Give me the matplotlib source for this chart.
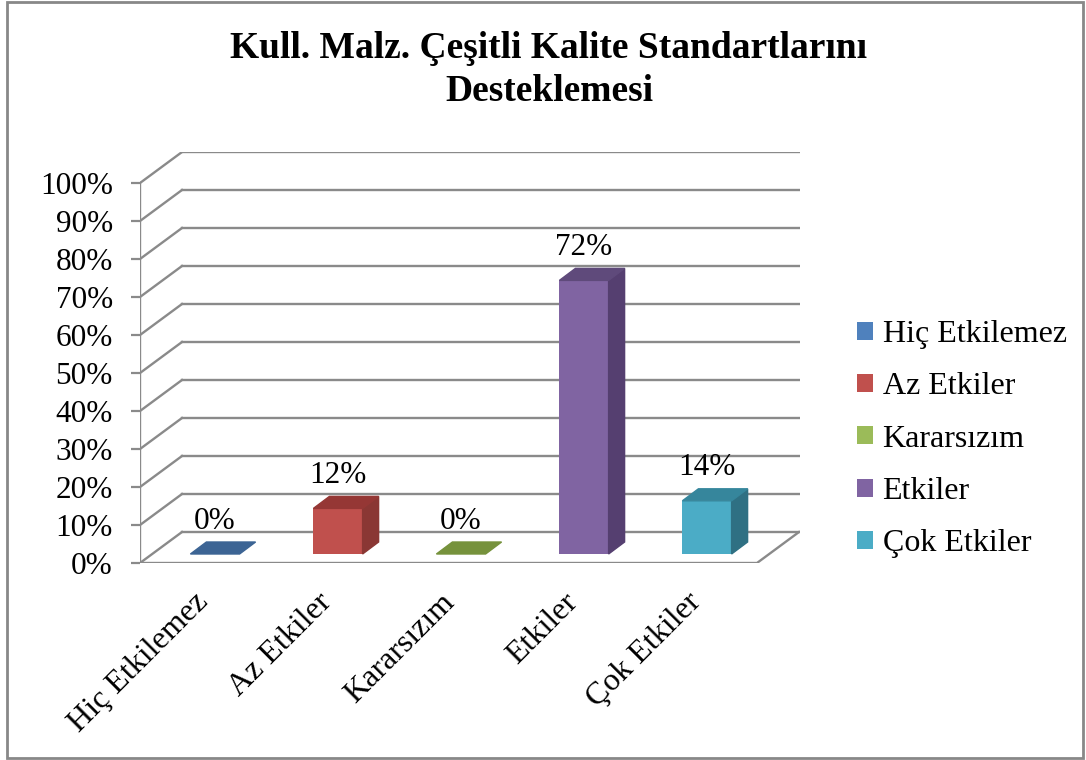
import matplotlib.pyplot as plt
from matplotlib.patches import Polygon, Patch, Rectangle

# data
categories = ["Hiç Etkilemez", "Az Etkiler", "Kararsızım", "Etkiler", "Çok Etkiler"]
values = [0, 12, 0, 72, 14]
labels = ["0%", "12%", "0%", "72%", "14%"]
yticks = [0, 10, 20, 30, 40, 50, 60, 70, 80, 90, 100]
title = "Kull. Malz. Çeşitli Kalite Standartlarını\nDesteklemesi"

# front / side / top colours for each bar
front = ["#4F81BD", "#C0504D", "#9BBB59", "#8064A2", "#4BACC6"]
side = ["#345A88", "#8A3734", "#6E8A3A", "#553F70", "#2F7083"]
top = ["#3C6494", "#953735", "#76923C", "#5F4A7B", "#36869C"]

font = "Liberation Serif"
grid_col = "#8A8A8A"

W, H = 1086, 760
fig = plt.figure(figsize=(W / 100, H / 100), dpi=100)

# axes placed so the front plane runs from x=140px and 0% sits at y=563px
px_per_cat = 123.0
px_per_pct = 3.8
x0 = (140 - 215) / px_per_cat
x1 = (800 - 215) / px_per_cat
wall_dx = 42 / px_per_cat       # depth shift of the back wall
wall_dy = 31 / px_per_pct
ymax = 100 + wall_dy
ax = fig.add_axes([140 / W, (H - 563) / H, (800 - 140) / W, ymax * px_per_pct / H])
ax.set_xlim(x0, x1)
ax.set_ylim(0, ymax)
for s in ax.spines.values():
    s.set_visible(False)
ax.set_xticks([])
ax.set_yticks(yticks)
ax.set_yticklabels(["{}%".format(t) for t in yticks], fontsize=22.5, family=font)
ax.tick_params(axis="y", direction="out", length=6.5, width=1.6, color=grid_col, pad=13)

# walls: back grid lines, side diagonals, front axis, floor
floor_right = (757 - 215) / px_per_cat
for g in yticks:
    ax.plot([x0 + wall_dx, x1], [g + wall_dy, g + wall_dy], color=grid_col, lw=1.7, zorder=1)
    ax.plot([x0, x0 + wall_dx], [g, g + wall_dy], color=grid_col, lw=1.7, zorder=1)
ax.plot([x0, x0], [0, 100], color=grid_col, lw=1.7, zorder=1)
ax.plot([x0, floor_right, floor_right + wall_dx], [0, 0, wall_dy], color=grid_col, lw=1.7, zorder=1)

# 3d-ish bars
bw = 0.4
base = 9 / px_per_pct
ddx = 16 / px_per_cat
ddy = 12 / px_per_pct
for i, v in enumerate(values):
    l, r = i - bw / 2, i + bw / 2
    t = base + v
    if v > 0:
        ax.bar(i, v, width=bw, bottom=base, color=front[i], zorder=3)
        ax.add_patch(Polygon([(r, base), (r, t), (r + ddx, t + ddy), (r + ddx, base + ddy)],
                             closed=True, color=side[i], zorder=3))
    ax.add_patch(Polygon([(l, t), (r, t), (r + ddx, t + ddy), (l + ddx, t + ddy)],
                         closed=True, color=top[i], zorder=3))
    ax.text(i, t + ddy + 5.5, labels[i], ha="center", va="center", fontsize=22.5, family=font, zorder=4)
    ax.text(i - 0.17, -6.5, categories[i], rotation=45, rotation_mode="anchor",
            ha="right", va="top", fontsize=23, family=font)

# legend
handles = [Patch(facecolor=c, edgecolor="none") for c in front]
fig.legend(handles, categories, loc="upper left", bbox_to_anchor=(857 / W, 1 - 320 / H),
           frameon=False, prop={"family": font, "size": 23}, handlelength=0.5, handleheight=0.5,
           handletextpad=0.3, labelspacing=0.73, borderaxespad=0, borderpad=0)

fig.text(549 / W, 1 - 70 / H, title, ha="center", va="center", fontsize=27,
         fontweight="bold", family=font, linespacing=1.32)

# outer frame
fig.patches.append(Rectangle((7 / W, 2 / H), (1083 - 7) / W, (758 - 2) / H, transform=fig.transFigure,
                             fill=False, edgecolor="#888888", lw=2))

fig.savefig("out.png", dpi=100)
